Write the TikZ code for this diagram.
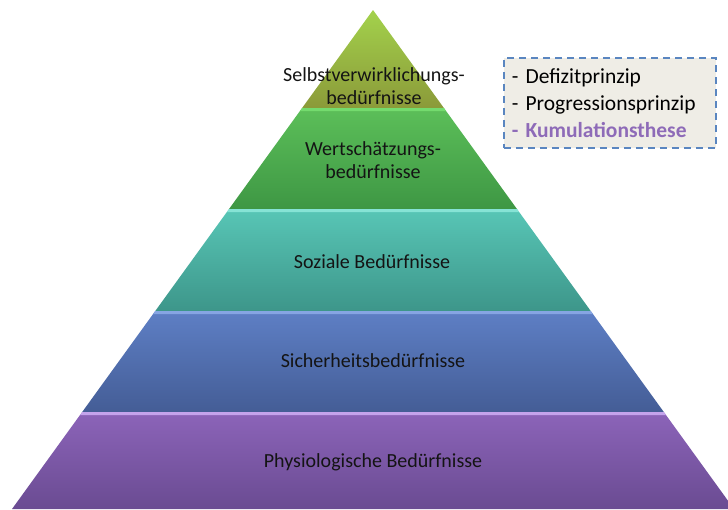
\documentclass[tikz,border=0pt]{standalone}
\usepackage{fontspec}
\setmainfont{Carlito}
\usetikzlibrary{calc}

% colours of the five levels (top / bottom of each gradient, highlight edge)
\definecolor{lvAtop}{HTML}{A3D24C}
\definecolor{lvAbot}{HTML}{8B9A39}
\definecolor{lvBhi}{HTML}{74DB6E}
\definecolor{lvBtop}{HTML}{5CBF59}
\definecolor{lvBbot}{HTML}{3E9744}
\definecolor{lvChi}{HTML}{86E3D5}
\definecolor{lvCtop}{HTML}{58C6B6}
\definecolor{lvCbot}{HTML}{3D968A}
\definecolor{lvDhi}{HTML}{86A5E3}
\definecolor{lvDtop}{HTML}{5E7FC5}
\definecolor{lvDbot}{HTML}{445D96}
\definecolor{lvEhi}{HTML}{C4A3EC}
\definecolor{lvEtop}{HTML}{8C64B9}
\definecolor{lvEbot}{HTML}{6A4B92}
\definecolor{boxfill}{HTML}{EFEDE6}
\definecolor{boxline}{HTML}{5A86C0}
\definecolor{accent}{HTML}{8E6BB8}
\definecolor{labeltext}{HTML}{141414}

% apex and slope of the pyramid sides
\def\apx{373}
\def\apy{10}
\def\slope{0.7234}

% one pyramid level: y top, y bottom, top colour, bottom colour, highlight colour
\newcommand{\pyrlevel}[5]{%
  \pgfmathsetmacro\lt{\apx-\slope*(#1-\apy)}%
  \pgfmathsetmacro\rt{\apx+\slope*(#1-\apy)}%
  \pgfmathsetmacro\lb{\apx-\slope*(#2-\apy)}%
  \pgfmathsetmacro\rb{\apx+\slope*(#2-\apy)}%
  \shade[top color=#3, bottom color=#4]
    (\lt,#1) -- (\rt,#1) -- (\rb,#2) -- (\lb,#2) -- cycle;
  \pgfmathsetmacro\lh{\apx-\slope*(#1+3-\apy)}%
  \pgfmathsetmacro\rh{\apx+\slope*(#1+3-\apy)}%
  \fill[#5] (\lt,#1) -- (\rt,#1) -- (\rh,#1+3) -- (\lh,#1+3) -- cycle;
}

\tikzset{
  levellabel/.style={text=labeltext, align=center,
    font=\fontsize{20}{23}\selectfont, inner sep=0pt},
  notebox/.style={draw=boxline, fill=boxfill, line width=1.6pt,
    dash pattern=on 7pt off 5pt, align=left, anchor=north west,
    minimum width=210pt, minimum height=90pt, text width=196pt,
    inner xsep=8pt, inner ysep=3pt,
    font=\fontsize{21.5}{27}\selectfont},
}

\begin{document}
\begin{tikzpicture}[x=1pt, y=-1pt]
  \useasboundingbox (0,0) rectangle (728,509);
  \begin{scope}
    \clip (0,0) rectangle (728,509);
    % top triangle
    \shade[top color=lvAtop, bottom color=lvAbot]
      (\apx,\apy) -- ({\apx+\slope*(108-\apy)},108) -- ({\apx-\slope*(108-\apy)},108) -- cycle;
    \pyrlevel{108}{209}{lvBtop}{lvBbot}{lvBhi}
    \pyrlevel{209}{311}{lvCtop}{lvCbot}{lvChi}
    \pyrlevel{311}{412}{lvDtop}{lvDbot}{lvDhi}
    \pyrlevel{412}{509}{lvEtop}{lvEbot}{lvEhi}
  \end{scope}

  \node[levellabel] (selbst) at (374,86) {Selbstverwirklichungs-\\bedürfnisse};
  \node[levellabel] (wert) at (373,160) {Wertschätzungs-\\bedürfnisse};
  \node[levellabel] (sozial) at (372,262) {Soziale Bedürfnisse};
  \node[levellabel] (sicher) at (373,361) {Sicherheitsbedürfnisse};
  \node[levellabel] (physio) at (373,462) {Physiologische Bedürfnisse};

  \node[notebox] (notes) at (503,57)
    {- Defizitprinzip\\- Progressionsprinzip\\\textcolor{accent}{\bfseries - Kumulationsthese}};
\end{tikzpicture}
\end{document}
